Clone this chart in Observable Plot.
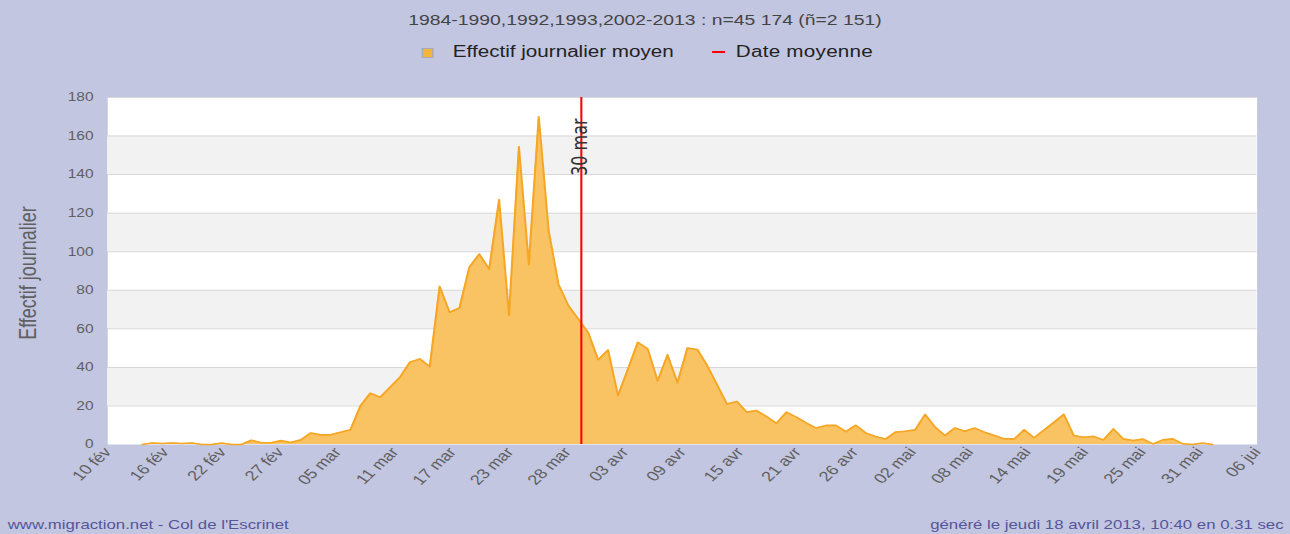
<!DOCTYPE html>
<html>
<head>
<meta charset="utf-8">
<script src="https://cdn.jsdelivr.net/npm/d3@7"></script>
<script src="https://cdn.jsdelivr.net/npm/@observablehq/plot@0.6"></script>
<style>
  html, body { margin: 0; padding: 0; background: #c3c6e1; overflow: hidden; }
  #wrap { position: relative; width: 1000px; height: 534px; background: #c3c6e1;
          transform: scaleX(1.29); transform-origin: 0 0;
          font-family: "Liberation Sans", Arial, sans-serif; }
  #chart { position: absolute; left: 0; top: 0; }
  .abs { position: absolute; white-space: nowrap; }
  #title { left: 0; width: 1000px; top: 12px; text-align: center; font-size: 15px; line-height: 15px; color: #444; }
  #legend { left: 327px; top: 44px; font-size: 16px; line-height: 16px; color: #222; }
  #legend .sw { display: inline-block; width: 7px; height: 8px; background: #f4b53c; border: 1px solid #a8a8b8; vertical-align: -1px; margin-right: 15px; }
  #legend .ln { display: inline-block; width: 10px; height: 2px; background: #ff0000; vertical-align: 4px; margin-left: 30px; margin-right: 8px; }
  #legend .t2 { letter-spacing: 0.2px; }
  .foot { top: 518px; font-size: 13px; line-height: 13px; color: #55559a; }
  #footL { left: 6px; }
  #footR { right: 5px; }
</style>
</head>
<body>
<div id="wrap">
  <div id="title" class="abs"></div>
  <div id="legend" class="abs"></div>
  <div id="chart"></div>
  <div id="footL" class="abs foot"></div>
  <div id="footR" class="abs foot"></div>
</div>
<script>
// ---- texts ----
const titleText = "1984-1990,1992,1993,2002-2013 : n=45 174 (ñ=2 151)";
const legendSeries = "Effectif journalier moyen";
const legendMean = "Date moyenne";
const yLabel = "Effectif journalier";
const footLeft = "www.migraction.net - Col de l'Escrinet";
const footRight = "généré le jeudi 18 avril 2013, 10:40 en 0.31 sec";

// ---- x axis (days since 10 fév) ----
const totalDays = 116;
const xTickLabels = ["10 fév","16 fév","22 fév","27 fév","05 mar","11 mar","17 mar","23 mar","28 mar",
  "03 avr","09 avr","15 avr","21 avr","26 avr","02 mai","08 mai","14 mai","19 mai","25 mai","31 mai","06 jui"];

// ---- y axis ----
const yTicks = [0, 20, 40, 60, 80, 100, 120, 140, 160, 180];

// ---- mean date ----
const meanDay = 47.8;
const meanLabel = "30 mar";

// ---- daily mean counts, first value is day index 3 (13 fév) ----
const firstDay = 3;
const dailyValues = [
  0, 0.8, 0.5, 0.8, 0.5, 0.8, 0, 0, 0.7, 0, 0,
  2.2, 0.9, 0.9, 2, 1, 2.4, 6, 5, 5, 6.4, 7.6,
  20, 26.6, 24.5, 29.7, 34.9, 42.7, 44.4, 40.4, 82, 68.6,
  70.8, 92, 98.8, 91, 127, 67, 154.4, 93.3, 170, 111,
  83, 72, 65, 58, 44, 49, 25.4, 39, 53, 49.6,
  33, 46.5, 32, 50, 49.3, 41, 31, 21, 22.3, 16.8,
  17.6, 14.5, 11, 16.8, 14.2, 11.2, 8.5, 9.9, 9.9, 6.7,
  10, 6, 4.2, 2.8, 6.4, 6.9, 7.6, 15.6, 9, 4.7,
  8.5, 6.9, 8.5, 6.4, 4.7, 2.9, 2.9, 7.6, 3.5, 7.5,
  11.5, 15.6, 4.7, 3.8, 4.2, 2.4, 8.1, 2.9, 2.1, 2.8,
  0.3, 2.4, 2.9, 0.3, 0, 0.7, 0
];

// ---- build tables ----
const series = dailyValues.map((v, k) => ({pos: firstDay + k + 0.5, value: v}));
const tickStep = totalDays / (xTickLabels.length - 1);
const xTickPos = xTickLabels.map((_, i) => i * tickStep);
const bands = [];
for (let i = 1; i + 1 < yTicks.length; i += 2) bands.push([yTicks[i], yTicks[i + 1]]);

document.getElementById("title").textContent = titleText;
document.getElementById("footL").textContent = footLeft;
document.getElementById("footR").textContent = footRight;
const lg = document.getElementById("legend");
lg.innerHTML = '<span class="sw"></span><span></span><span class="ln"></span><span class="t2"></span>';
lg.children[1].textContent = legendSeries;
lg.children[3].textContent = legendMean;

const chart = Plot.plot({
  width: 1000,
  height: 534,
  marginLeft: 83,
  marginRight: 26,
  marginTop: 97,
  marginBottom: 90,
  style: {background: "transparent", fontFamily: "'Liberation Sans', Arial, sans-serif", overflow: "visible"},
  x: {domain: [0, totalDays], axis: null},
  y: {domain: [0, 180], axis: null},
  marks: [
    Plot.frame({fill: "white"}),
    Plot.rect(bands, {y1: d => d[0], y2: d => d[1], fill: "#f2f2f2"}),
    Plot.ruleY(yTicks.slice(1), {stroke: "#d8d8d8", strokeWidth: 1}),
    Plot.areaY(series, {x: "pos", y: "value", fill: "#f9c262"}),
    Plot.lineY(series, {x: "pos", y: "value", stroke: "#f6a623", strokeWidth: 1.6}),
    Plot.ruleX([meanDay], {stroke: "#ff0000", strokeWidth: 1.6}),
    Plot.text([meanLabel], {x: meanDay, frameAnchor: "top", rotate: -90, textAnchor: "end",
      dx: -7, dy: 21, fontSize: 16, fontFamily: "DejaVu Sans", fill: "#333"}),
    Plot.axisY({ticks: yTicks, tickSize: 0, tickPadding: 11, fontSize: 12, fill: "#606060", label: null}),
    Plot.axisX({ticks: xTickPos, tickFormat: d => xTickLabels[Math.round(d / tickStep)],
      tickRotate: -50, tickSize: 0, tickPadding: 5, fontSize: 14, fill: "#606060", label: null}),
    Plot.text([yLabel], {frameAnchor: "left", textAnchor: "middle", rotate: -90, dx: -61, dy: 2, fontSize: 18, fill: "#606060"})
  ]
});
document.getElementById("chart").appendChild(chart);
</script>
</body>
</html>
